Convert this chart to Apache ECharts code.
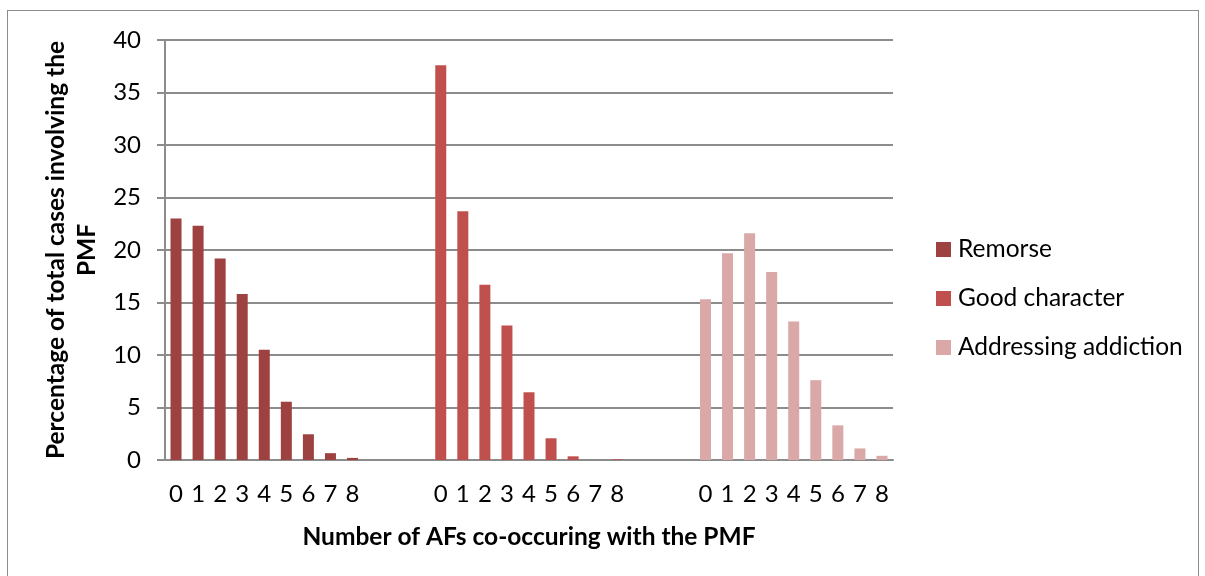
<!DOCTYPE html>
<html>
<head>
<meta charset="utf-8">
<script src="https://cdn.jsdelivr.net/npm/echarts@6/dist/echarts.min.js"></script>
<style>
  html, body { margin: 0; padding: 0; background: #fff; }
  #frame {
    position: absolute; left: 7px; top: 10px; width: 1192px; height: 580px;
    border: 1px solid #8c8c8c; box-sizing: border-box;
  }
  #chart { position: absolute; left: 0; top: 0; width: 1205px; height: 576px; }
</style>
</head>
<body>
<div id="frame"></div>
<div id="chart"></div>
<script>
// tick labels for one group of bars
var afCounts = ["0", "1", "2", "3", "4", "5", "6", "7", "8"];
var gapSize = 3; // empty categories between groups

// percentage of total cases
var remorse = [23.0, 22.3, 19.2, 15.8, 10.5, 5.55, 2.45, 0.65, 0.2];
var goodCharacter = [37.6, 23.7, 16.7, 12.8, 6.45, 2.07, 0.35, 0, 0.06];
var addressingAddiction = [15.3, 19.7, 21.6, 17.9, 13.2, 7.6, 3.3, 1.1, 0.4];

var seriesNames = ["Remorse", "Good character", "Addressing addiction"];
var seriesValues = [remorse, goodCharacter, addressingAddiction];
var colors = ["#9e4141", "#c0504d", "#d9a8a7"];

// build the shared category axis: 0..8, gap, 0..8, gap, 0..8
var categories = [];
var gap = [];
for (var g = 0; g < gapSize; g++) gap.push("");
seriesValues.forEach(function (v, i) {
  if (i > 0) categories = categories.concat(gap);
  categories = categories.concat(afCounts);
});

function padded(idx) {
  var out = [];
  seriesValues.forEach(function (vals, i) {
    if (i > 0) for (var g = 0; g < gapSize; g++) out.push(null);
    vals.forEach(function (v) { out.push(i === idx ? v : null); });
  });
  return out;
}

var chart = echarts.init(document.getElementById("chart"));
var font = "Lato";

var option = {
  animation: false,
  color: colors,
  grid: {
    left: 165,
    right: 312,
    top: 40,
    bottom: 116,
    containLabel: false
  },
  legend: {
    orient: "vertical",
    left: 936,
    top: 237,
    padding: 0,
    itemWidth: 15,
    itemHeight: 15,
    itemGap: 24,
    icon: "rect",
    textStyle: { fontFamily: font, fontSize: 24.5, color: "#000", padding: [0, 0, 0, 2] },
    data: seriesNames
  },
  xAxis: {
    type: "category",
    data: categories,
    name: "Number of AFs co-occuring with the PMF",
    nameLocation: "middle",
    nameGap: 65,
    nameTextStyle: { fontFamily: font, fontSize: 24.5, fontWeight: "bold", color: "#000" },
    axisTick: { show: false },
    axisLine: { lineStyle: { color: "#8c8c8c", width: 2 } },
    axisLabel: {
      interval: 0,
      margin: 22,
      fontFamily: font,
      fontSize: 24,
      color: "#000"
    }
  },
  yAxis: {
    type: "value",
    min: 0,
    max: 40,
    interval: 5,
    name: "Percentage of total cases involving the\nPMF",
    nameLocation: "middle",
    nameGap: 59,
    nameRotate: 90,
    nameTextStyle: {
      fontFamily: font, fontSize: 24.5, fontWeight: "bold", color: "#000", lineHeight: 31
    },
    axisLine: { show: true, lineStyle: { color: "#8c8c8c", width: 2 } },
    axisTick: { show: true, length: 8, lineStyle: { color: "#8c8c8c", width: 2 } },
    splitLine: { lineStyle: { color: "#8c8c8c", width: 2 } },
    axisLabel: {
      margin: 24,
      fontFamily: font,
      fontSize: 24,
      color: "#000"
    }
  },
  series: seriesNames.map(function (name, i) {
    return {
      name: name,
      type: "bar",
      data: padded(i),
      barWidth: 11,
      barGap: "-100%",
      itemStyle: { color: colors[i] }
    };
  })
};

chart.setOption(option);
</script>
</body>
</html>
